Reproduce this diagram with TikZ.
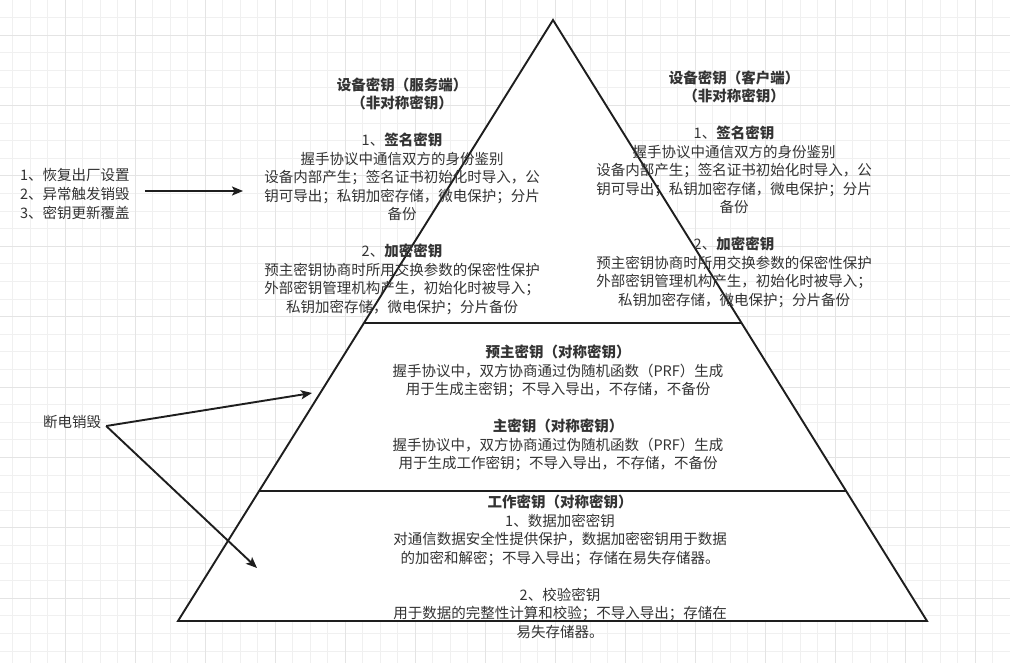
\documentclass[tikz,border=0pt]{standalone}
\usepackage{fontspec}
\setmainfont{Noto Sans CJK SC}
\usetikzlibrary{arrows.meta, positioning, calc}
\definecolor{colGrid}{RGB}{240,240,240}
\definecolor{colGridMajor}{RGB}{228,228,228}
\definecolor{colBorder}{RGB}{30,30,30}
\definecolor{colText}{RGB}{51,51,51}
\tikzset{
    keytext/.style={align=center, text=colText, inner sep=0pt,
        font=\fontsize{14.5}{18.5}\selectfont},
    sidetext/.style={align=left, text=colText, inner sep=0pt,
        font=\fontsize{14.5}{19}\selectfont},
    layer/.style={draw=colBorder, line width=1.9pt, fill=white, line join=miter},
    divider/.style={draw=colBorder, line width=1.9pt},
    arrow/.style={-{Stealth[length=11pt, width=9pt, inset=2.5pt]}, line width=1.9pt, draw=colBorder}
}

\begin{document}
\begin{tikzpicture}[x=1pt, y=-1pt]

    \useasboundingbox (0,0) rectangle (1010,663);
    \fill[white] (0,0) rectangle (1010,663);

    % background grid
    \foreach \gx in {12.5,30,...,1010} {\draw[colGrid, line width=0.8pt] (\gx,0) -- (\gx,663);}
    \foreach \gy in {-0.2,17.4,...,663} {\draw[colGrid, line width=0.8pt] (0,\gy) -- (1010,\gy);}
    \foreach \gx in {65,135,...,1010} {\draw[colGridMajor, line width=0.9pt] (\gx,0) -- (\gx,663);}
    \foreach \gy in {35,105.4,...,663} {\draw[colGridMajor, line width=0.9pt] (0,\gy) -- (1010,\gy);}

    % pyramid
    \coordinate (apex) at (553,20);
    \coordinate (baseL) at (178,621);
    \coordinate (baseR) at (927,621);
    \coordinate (upL) at ($(apex)!0.504!(baseL)$);
    \coordinate (upR) at ($(apex)!0.504!(baseR)$);
    \coordinate (lowL) at ($(apex)!0.7837!(baseL)$);
    \coordinate (lowR) at ($(apex)!0.7837!(baseR)$);

    \draw[layer] (apex) -- (baseL) -- (baseR) -- cycle;
    \draw[divider] (upL) -- (upR);
    \draw[divider] (lowL) -- (lowR);

    \node[keytext] (serverkey) at (402,196) {\textbf{设备密钥（服务端）}\\\textbf{（非对称密钥）}\\[18.5pt]1、\textbf{签名密钥}\\握手协议中通信双方的身份鉴别\\设备内部产生；签名证书初始化时导入，公\\钥可导出；私钥加密存储，微电保护；分片\\备份\\[18.5pt]2、\textbf{加密密钥}\\预主密钥协商时所用交换参数的保密性保护\\外部密钥管理机构产生，初始化时被导入；\\私钥加密存储，微电保护；分片备份};
    \node[keytext] (clientkey) at (734,189) {\textbf{设备密钥（客户端）}\\\textbf{（非对称密钥）}\\[18.5pt]1、\textbf{签名密钥}\\握手协议中通信双方的身份鉴别\\设备内部产生；签名证书初始化时导入，公\\钥可导出；私钥加密存储，微电保护；分片\\备份\\[18.5pt]2、\textbf{加密密钥}\\预主密钥协商时所用交换参数的保密性保护\\外部密钥管理机构产生，初始化时被导入；\\私钥加密存储，微电保护；分片备份};

    \node[keytext] (masterkey) at (558,408) {\textbf{预主密钥（对称密钥）}\\握手协议中，双方协商通过伪随机函数（PRF）生成\\用于生成主密钥；不导入导出，不存储，不备份\\[18.5pt]\textbf{主密钥（对称密钥）}\\握手协议中，双方协商通过伪随机函数（PRF）生成\\用于生成工作密钥；不导入导出，不存储，不备份};

    \node[keytext] (workkey) at (560,567) {\textbf{工作密钥（对称密钥）}\\1、数据加密密钥\\对通信数据安全性提供保护，数据加密密钥用于数据\\的加密和解密；不导入导出；存储在易失存储器。\\[18.5pt]2、校验密钥\\用于数据的完整性计算和校验；不导入导出；存储在\\易失存储器。};

    \node[sidetext, anchor=west] (resetlist) at (20,194) {1、恢复出厂设置\\2、异常触发销毁\\3、密钥更新覆盖};
    \node[sidetext] (powerloss) at (72,422) {断电销毁};

    \coordinate (resettip) at (243,191);
    \coordinate (mastertip) at (312,393);
    \coordinate (worktip) at (257,568);

    \draw[arrow] ([shift={(15pt,3pt)}]resetlist.east) -- (resettip);
    \draw[arrow] ([shift={(5pt,-4pt)}]powerloss.east) -- (mastertip);
    \draw[arrow] ([shift={(5pt,-4pt)}]powerloss.east) -- (worktip);

\end{tikzpicture}
\end{document}
